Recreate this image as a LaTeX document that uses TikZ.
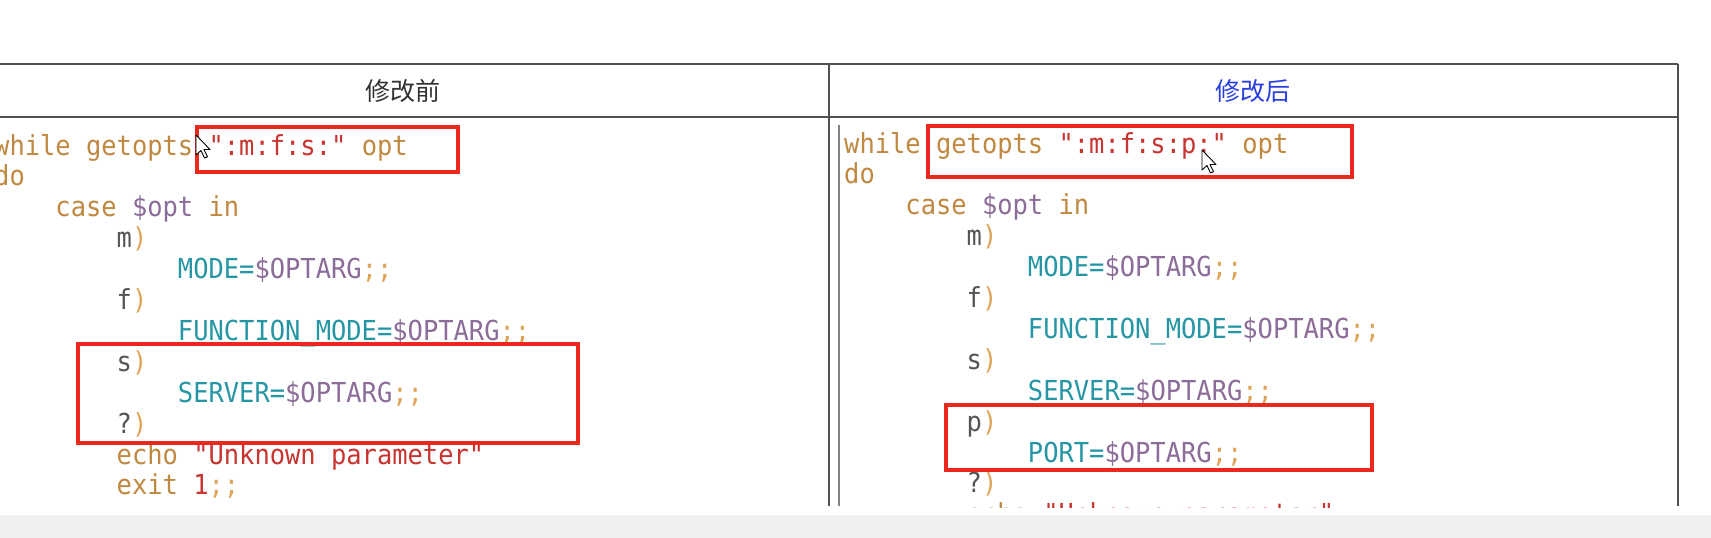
\documentclass[tikz,border=0pt]{standalone}
\usepackage{fontspec}
\newfontfamily\codefont[FakeStretch=0.925]{DejaVu Sans Mono}
\newfontfamily\cjk{Noto Sans CJK SC}
\definecolor{kw}{RGB}{192,136,64}
\definecolor{vr}{RGB}{140,108,152}
\definecolor{tl}{RGB}{38,150,165}
\definecolor{st}{RGB}{200,52,48}
\definecolor{pu}{RGB}{222,165,88}
\definecolor{pl}{RGB}{85,85,85}
\definecolor{rb}{RGB}{234,40,30}
\definecolor{hb}{RGB}{40,62,222}
\definecolor{hk}{RGB}{50,50,50}
\definecolor{rule}{RGB}{80,80,80}
\definecolor{band}{RGB}{240,240,240}
\newlength\cw
\AtBeginDocument{\settowidth{\cw}{\codefont\fontsize{27.5pt}{31pt}\selectfont 0}}
\newcommand\sk[1]{\hspace*{#1\cw}}
\tikzset{
  codeline/.style={anchor=base west, inner sep=0pt, font=\codefont\fontsize{27.5}{31}\selectfont},
  headtext/.style={anchor=base, inner sep=0pt, font=\cjk\fontsize{25}{30}\selectfont},
  tablerule/.style={draw=rule, line width=2pt},
  innerrule/.style={draw=rule!70, line width=1.6pt},
  markbox/.style={draw=rb, line width=3.5pt},
  mcur/.pic={\draw[fill=white, draw=black, line width=0.9pt, line join=round]
     (0,0) -- (0,20) -- (5,15.5) -- (8.5,23) -- (11.5,21.8) -- (8,14.5) -- (14,14.5) -- cycle;}
}
\begin{document}
\begin{tikzpicture}[x=1pt,y=-1pt]
\useasboundingbox (0,0) rectangle (1711,538);
\fill[white] (0,0) rectangle (1711,538);
\fill[band] (0,515) rectangle (1711,538);
% table rules
\coordinate (tl) at (0,64);
\coordinate (tr) at (1678,64);
\coordinate (hl) at (0,116.5);
\coordinate (hr) at (1678,116.5);
\coordinate (ct) at (829,64);
\coordinate (cb) at (829,506);
\coordinate (rt) at (1678,64);
\coordinate (rbt) at (1678,506);
\coordinate (it) at (839,125);
\coordinate (ib) at (839,506);
\draw[tablerule] (tl) -- (tr);
\draw[tablerule] (hl) -- (hr);
\draw[tablerule] (ct) -- (cb);
\draw[tablerule] (rt) -- (rbt);
\draw[innerrule] (it) -- (ib);
% headers
\node[headtext, text=hk] (hL) at (403,100.5) {修改前};
\node[headtext, text=hb] (hR) at (1253,100.5) {修改后};
% code
\begin{scope}
\clip (-20,120) rectangle (1711,507);
% left column
\node[codeline] (L0) at (-6,155) {\color{kw}while\sk1getopts\sk1\color{st}":m:f:s:"\sk1\color{kw}opt};
\node[codeline] (L1) at (-6,185.9) {\color{kw}do};
\node[codeline] (L2) at (-6,216.8) {\sk4\color{kw}case\sk1\color{vr}\$opt\sk1\color{kw}in};
\node[codeline] (L3) at (-6,247.7) {\sk8\color{pl}m\color{pu})};
\node[codeline] (L4) at (-6,278.6) {\sk{12}\color{tl}MODE=\color{vr}\$OPTARG\color{pu};;};
\node[codeline] (L5) at (-6,309.5) {\sk8\color{pl}f\color{pu})};
\node[codeline] (L6) at (-6,340.4) {\sk{12}\color{tl}FUNCTION\_MODE=\color{vr}\$OPTARG\color{pu};;};
\node[codeline] (L7) at (-6,371.3) {\sk8\color{pl}s\color{pu})};
\node[codeline] (L8) at (-6,402.2) {\sk{12}\color{tl}SERVER=\color{vr}\$OPTARG\color{pu};;};
\node[codeline] (L9) at (-6,433.1) {\sk8\color{pl}?\color{pu})};
\node[codeline] (L10) at (-6,464) {\sk8\color{kw}echo\sk1\color{st}"Unknown\sk1parameter"};
\node[codeline] (L11) at (-6,494.9) {\sk8\color{kw}exit\sk1\color{st}1\color{pu};;};
% right column
\node[codeline] (R0) at (844,153) {\color{kw}while\sk1getopts\sk1\color{st}":m:f:s:p:"\sk1\color{kw}opt};
\node[codeline] (R1) at (844,183.9) {\color{kw}do};
\node[codeline] (R2) at (844,214.8) {\sk4\color{kw}case\sk1\color{vr}\$opt\sk1\color{kw}in};
\node[codeline] (R3) at (844,245.7) {\sk8\color{pl}m\color{pu})};
\node[codeline] (R4) at (844,276.6) {\sk{12}\color{tl}MODE=\color{vr}\$OPTARG\color{pu};;};
\node[codeline] (R5) at (844,307.5) {\sk8\color{pl}f\color{pu})};
\node[codeline] (R6) at (844,338.4) {\sk{12}\color{tl}FUNCTION\_MODE=\color{vr}\$OPTARG\color{pu};;};
\node[codeline] (R7) at (844,369.3) {\sk8\color{pl}s\color{pu})};
\node[codeline] (R8) at (844,400.2) {\sk{12}\color{tl}SERVER=\color{vr}\$OPTARG\color{pu};;};
\node[codeline] (R9) at (844,431.1) {\sk8\color{pl}p\color{pu})};
\node[codeline] (R10) at (844,462) {\sk{12}\color{tl}PORT=\color{vr}\$OPTARG\color{pu};;};
\node[codeline] (R11) at (844,492.9) {\sk8\color{pl}?\color{pu})};
\node[codeline] (R12) at (844,523.8) {\sk8\color{kw}echo\sk1\color{st}"Unknown\sk1parameter"};
\end{scope}
% red marks
\draw[markbox] (197,127) rectangle (458,172);
\draw[markbox] (78,344) rectangle (578,443);
\draw[markbox] (928,126) rectangle (1352,177);
\draw[markbox] (946,405) rectangle (1372,470);
% mouse pointers
\pic at (196,135) {mcur};
\pic at (1202,150) {mcur};
\end{tikzpicture}
\end{document}
